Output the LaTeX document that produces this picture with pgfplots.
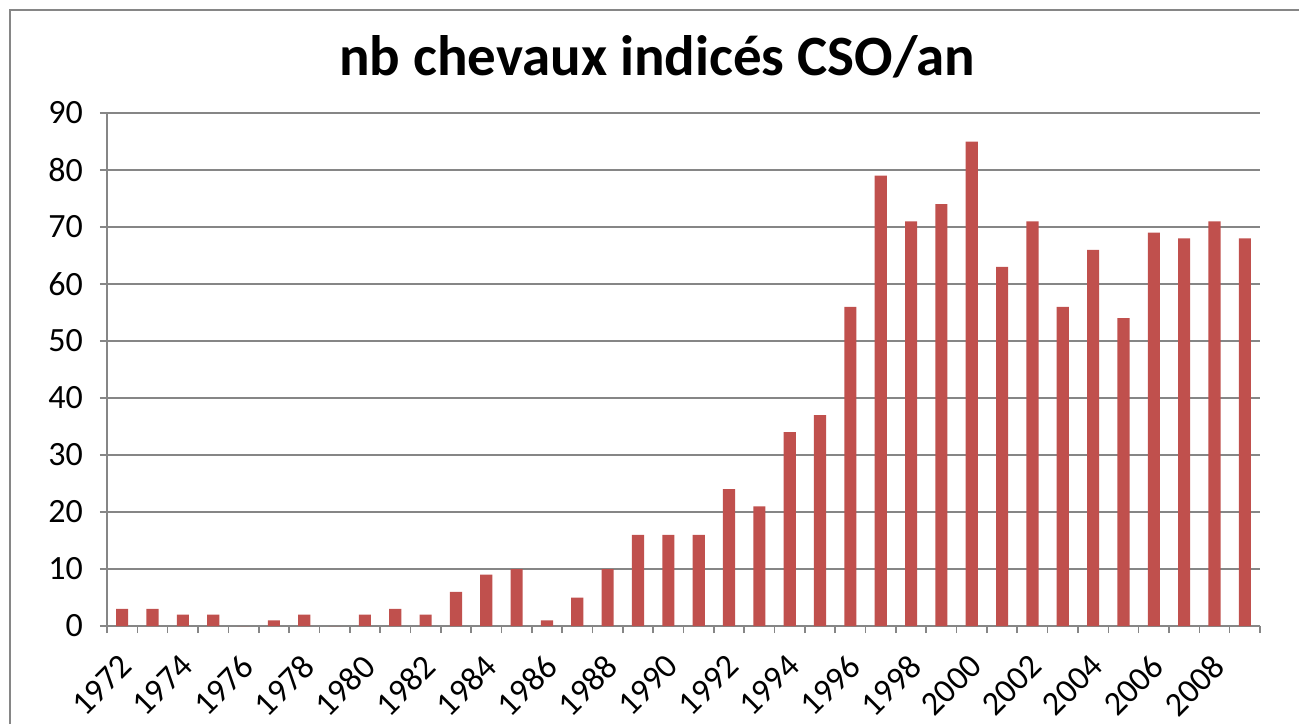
\documentclass[border=0pt]{standalone}
\usepackage{pgfplots}
\pgfplotsset{compat=1.18}
\usepackage{fontspec}
\setmainfont{Carlito}
\definecolor{barred}{HTML}{C0504D}
\definecolor{axgray}{HTML}{868686}
\begin{document}
\begin{tikzpicture}[x=0.5pt,y=0.5pt]
\useasboundingbox (0,0) rectangle (1299,724);
\draw[axgray,line width=1pt] (10,0) -- (10,714) -- (1299,714);
\node[font=\bfseries\fontsize{28.5}{32}\selectfont] at (657,667) {nb chevaux indicés CSO/an};
\coordinate (A) at (107,98);
\begin{axis}[
  at={(A)}, anchor=south west,
  scale only axis, width=576.5pt, height=256.5pt,
  xmin=-0.5, xmax=37.5, ymin=0, ymax=90,
  axis x line*=bottom, axis y line*=left,
  axis line style={axgray, line width=0.8pt},
  ytick={0,10,...,90},
  ymajorgrids, grid style={axgray, line width=0.6pt},
  xtick={0,2,...,36},
  xticklabels={1972,1974,1976,1978,1980,1982,1984,1986,1988,1990,1992,1994,1996,1998,2000,2002,2004,2006,2008},
  major x tick style={draw=none},
  minor xtick={-0.5,0.5,...,37.5},
  minor x tick style={axgray, line width=0.8pt},
  minor tick length=3.5pt,
  major y tick style={axgray, line width=0.8pt},
  major tick length=3.5pt,
  tick align=outside,
  xticklabel style={xshift=-2pt, yshift=-5pt, rotate=45, anchor=north east, font=\fontsize{17}{19}\selectfont},
  yticklabel style={font=\fontsize{17}{19}\selectfont, xshift=-5pt},
  /pgf/number format/assume math mode=true,
  clip=false,
]
\addplot[ybar, bar width=0.4, fill=barred, draw=none] coordinates {
(0,3) (1,3) (2,2) (3,2) (4,0) (5,1) (6,2) (7,0) (8,2) (9,3)
(10,2) (11,6) (12,9) (13,10) (14,1) (15,5) (16,10) (17,16) (18,16) (19,16)
(20,24) (21,21) (22,34) (23,37) (24,56) (25,79) (26,71) (27,74) (28,85) (29,63)
(30,71) (31,56) (32,66) (33,54) (34,69) (35,68) (36,71) (37,68)
};
\end{axis}
\end{tikzpicture}
\end{document}
